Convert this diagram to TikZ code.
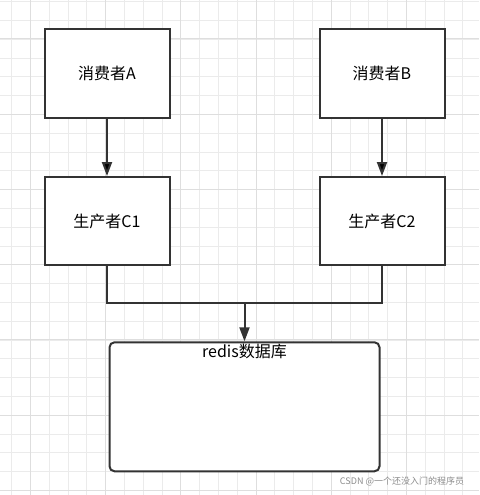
\documentclass[tikz,border=0pt]{standalone}
\usepackage{fontspec}
\setmainfont{Noto Sans CJK SC}
\usetikzlibrary{arrows.meta,positioning}
\definecolor{linegray}{HTML}{333333}
\definecolor{gridminor}{HTML}{EBEBEB}
\definecolor{gridmajor}{HTML}{DEDEDE}

\begin{document}
\begin{tikzpicture}[x=1pt,y=-1pt,
	box/.style={draw=linegray,line width=2pt,fill=white,minimum width=125pt,minimum height=88pt,font=\fontsize{16}{18}\selectfont},
	dbbox/.style={draw=linegray,line width=2pt,fill=white,rounded corners=5pt,minimum width=270pt,minimum height=129pt},
	link/.style={draw=linegray,line width=2pt},
	arrowlink/.style={link,-{Triangle[width=10pt,length=14pt]}}]
	\useasboundingbox (0,0) rectangle (479,495);
	\fill[white] (0,0) rectangle (479,495);
	% grid
	\foreach \i in {0,...,25}
		\draw[gridminor,line width=1pt] ({11.7+18.8*\i},0) -- ({11.7+18.8*\i},495);
	\foreach \i in {0,...,26}
		\draw[gridminor,line width=1pt] (0,{1.7+18.8*\i}) -- (479,{1.7+18.8*\i});
	\foreach \i in {0,...,6}
		\draw[gridmajor,line width=1pt] ({30.5+75.2*\i},0) -- ({30.5+75.2*\i},495);
	\foreach \i in {0,...,6}
		\draw[gridmajor,line width=1pt] (0,{39+75.2*\i}) -- (479,{39+75.2*\i});

	\node[box] (consA) at (107,73.5) {消费者A};
	\node[box] (consB) at (382,73.5) {消费者B};
	\node[box] (prodC1) at (107,221) {生产者C1};
	\node[box] (prodC2) at (382,221) {生产者C2};
	\node[dbbox,label={[anchor=north,inner sep=3pt,font=\fontsize{16}{18}\selectfont]north:redis数据库}] (redis) at (244.5,406.8) {};
	\coordinate (join) at (244.5,303);

	\path [arrowlink]
		(consA) edge (prodC1)
		(consB) edge (prodC2);
	\draw [link] (prodC1.south) |- (join) -| (prodC2.south);
	\draw [arrowlink] (join) -- (redis.north);

	\node[font=\fontsize{9}{10}\selectfont,text=black!45] (mark) at (402,481) {CSDN @一个还没入门的程序员};
\end{tikzpicture}
\end{document}
